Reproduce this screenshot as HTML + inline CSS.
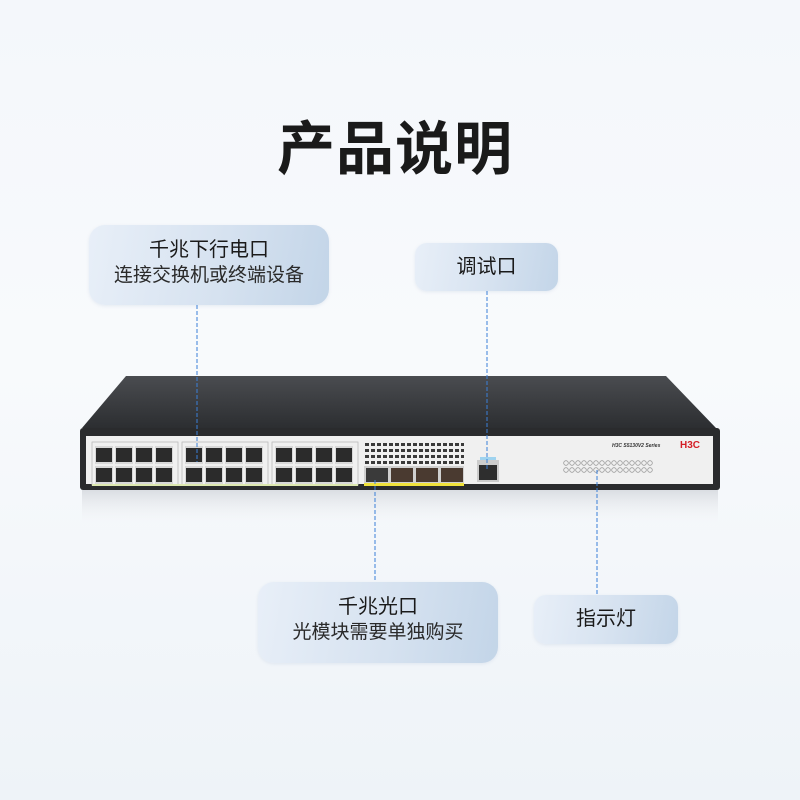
<!DOCTYPE html>
<html><head><meta charset="utf-8"><style>
html,body{margin:0;padding:0}
body{width:800px;height:800px;position:relative;overflow:hidden;background:linear-gradient(180deg,#f4f7fb 0%,#f8fafc 45%,#eef3f8 100%);font-family:"Liberation Sans","Noto Sans CJK SC",sans-serif;color:#1a1a1a}
.t{position:absolute;left:0;width:790px;top:112px;text-align:center;font-size:58px;font-weight:bold;letter-spacing:1px;line-height:76px}
.b{position:absolute;border-radius:16px;background:linear-gradient(100deg,#e8eff8 0%,#d6e2f0 55%,#c3d5e8 100%);text-align:center;box-shadow:0 1px 3px rgba(120,150,190,.15)}
.b .a{font-size:20px}
.b .s{font-size:19px;color:#2a2a2a}
svg{position:absolute;left:0;top:0}
</style></head><body>
<div class="t">产品说明</div>
<div class="b" style="left:89px;top:225px;width:240px;height:80px;"><div class="a" style="margin-top:12px;line-height:26px">千兆下行电口</div><div class="s" style="line-height:26px">连接交换机或终端设备</div></div>
<div class="b" style="left:415px;top:243px;width:143px;height:48px;border-radius:12px"><div class="a" style="line-height:48px">调试口</div></div>
<div class="b" style="left:258px;top:582px;width:240px;height:81px;"><div class="a" style="margin-top:12px;line-height:26px">千兆光口</div><div class="s" style="line-height:26px">光模块需要单独购买</div></div>
<div class="b" style="left:534px;top:595px;width:144px;height:49px;border-radius:12px"><div class="a" style="line-height:49px">指示灯</div></div>
<svg width="800" height="800">
<defs>
<linearGradient id="top" x1="0" y1="0" x2="0" y2="1"><stop offset="0" stop-color="#4a4c50"/><stop offset="1" stop-color="#2c2e31"/></linearGradient>
<linearGradient id="refl" x1="0" y1="0" x2="0" y2="1"><stop offset="0" stop-color="#c8ccd2" stop-opacity=".6"/><stop offset="1" stop-color="#fff" stop-opacity="0"/></linearGradient>
<pattern id="p1" x="94" y="445" width="20" height="20" patternUnits="userSpaceOnUse"><rect x="1" y="1" width="18" height="18" fill="#d8d8d8"/><rect x="2" y="3" width="16" height="14" fill="#2b2b2b"/></pattern>
<pattern id="p2" x="184" y="445" width="20" height="20" patternUnits="userSpaceOnUse"><rect x="1" y="1" width="18" height="18" fill="#d8d8d8"/><rect x="2" y="3" width="16" height="14" fill="#2b2b2b"/></pattern>
<pattern id="p3" x="274" y="445" width="20" height="20" patternUnits="userSpaceOnUse"><rect x="1" y="1" width="18" height="18" fill="#d8d8d8"/><rect x="2" y="3" width="16" height="14" fill="#2b2b2b"/></pattern>
<pattern id="vent" x="364" y="442" width="6" height="6" patternUnits="userSpaceOnUse"><rect x="1" y="1" width="4" height="3" fill="#3a3a3a"/></pattern>
<pattern id="led" x="563" y="460" width="6" height="7" patternUnits="userSpaceOnUse"><circle cx="3" cy="3" r="2.3" fill="none" stroke="#9a9a9a" stroke-width=".8"/></pattern>
</defs>
<rect x="82" y="490" width="636" height="40" fill="url(#refl)"/>
<polygon points="126,376 666,376 716,428 82,428" fill="url(#top)"/>
<rect x="80" y="428" width="640" height="62" rx="3" fill="#2a2b2d"/>
<rect x="86" y="436" width="627" height="48" fill="#f0f0f0"/>
<rect x="94" y="445" width="80" height="40" fill="url(#p1)"/>
<rect x="184" y="445" width="80" height="40" fill="url(#p2)"/>
<rect x="274" y="445" width="80" height="40" fill="url(#p3)"/>
<rect x="92" y="442" width="86" height="43" fill="none" stroke="#bbb" stroke-width=".8"/>
<rect x="182" y="442" width="86" height="43" fill="none" stroke="#bbb" stroke-width=".8"/>
<rect x="272" y="442" width="86" height="43" fill="none" stroke="#bbb" stroke-width=".8"/>
<rect x="92" y="484" width="266" height="2" fill="#dde8b0"/>
<rect x="364" y="442" width="100" height="22" fill="url(#vent)"/>
<rect x="364" y="466" width="100" height="18" fill="#d0d0d0"/>
<rect x="366" y="468" width="22" height="14" fill="#3a3a3a"/><rect x="391" y="468" width="22" height="14" fill="#4a3a30"/><rect x="416" y="468" width="22" height="14" fill="#4a3a30"/><rect x="441" y="468" width="22" height="14" fill="#4a3a30"/>
<rect x="364" y="483" width="100" height="3" fill="#f0e23c"/>
<rect x="477" y="460" width="22" height="22" fill="#ccc"/><rect x="479" y="465" width="18" height="15" fill="#2e2e2e"/>
<rect x="480" y="457" width="16" height="3" fill="#9fd3ef"/>
<rect x="563" y="460" width="90" height="14" fill="url(#led)"/>
<text x="612" y="447" font-size="5" font-style="italic" font-weight="bold" fill="#333" font-family="Liberation Sans">H3C S5130V2 Series</text>
<text x="680" y="448" font-size="10" font-weight="bold" fill="#d41e26" font-family="Liberation Sans">H3C</text>
<g stroke-width="1" stroke-dasharray="4,2" fill="none">
<line x1="197" y1="305" x2="197" y2="462" stroke="#3a7fd8"/>
<line x1="487" y1="291" x2="487" y2="470" stroke="#3a7fd8"/>
<line x1="375" y1="480" x2="375" y2="582" stroke="#3a7fd8"/>
<line x1="597" y1="470" x2="597" y2="595" stroke="#3a7fd8"/>
</g>
</svg>
</body></html>
